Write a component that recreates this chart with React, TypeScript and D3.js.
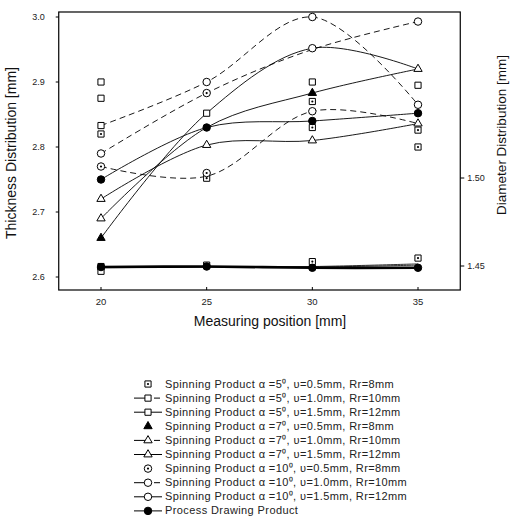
import React from 'react';
import * as d3 from 'd3';

// measuring positions on the x axis
const positions = [20, 25, 30, 35];
const thicknessTicks = [2.6, 2.7, 2.8, 2.9, 3.0];
const diameterTicks = [1.45, 1.5];

// legend entries: marker shape and line style
const seriesLabels = [
  'Spinning Product  α =5⁰, υ=0.5mm, Rr=8mm',
  'Spinning Product  α =5⁰, υ=1.0mm, Rr=10mm',
  'Spinning Product  α =5⁰, υ=1.5mm, Rr=12mm',
  'Spinning Product  α =7⁰, υ=0.5mm, Rr=8mm',
  'Spinning Product  α =7⁰, υ=1.0mm, Rr=10mm',
  'Spinning Product  α =7⁰, υ=1.5mm, Rr=12mm',
  'Spinning Product  α =10⁰, υ=0.5mm, Rr=8mm',
  'Spinning Product  α =10⁰, υ=1.0mm, Rr=10mm',
  'Spinning Product  α =10⁰, υ=1.5mm, Rr=12mm',
  'Process Drawing Product',
];
const seriesMarkers = ['sqDot', 'sq', 'sq', 'triFill', 'tri', 'tri', 'circDot', 'circ', 'circ', 'circFill'];
const seriesLines = ['none', 'dash', 'solid', 'none', 'dash', 'solid', 'none', 'dash', 'solid', 'solid'];

// measured thickness points [position, mm] per series
const thicknessPoints: [number, number][][] = [
  [[20, 2.82], [25, 2.752], [30, 2.87], [30, 2.83], [35, 2.826], [35, 2.80]],
  [[20, 2.90], [20, 2.875], [20, 2.833]],
  [[25, 2.852], [30, 2.90], [35, 2.895]],
  [[20, 2.66], [30, 2.883]],
  [[20, 2.69], [35, 2.836]],
  [[20, 2.72], [25, 2.803], [30, 2.81], [35, 2.92]],
  [[20, 2.77], [25, 2.883], [25, 2.76]],
  [[25, 2.90], [30, 3.00], [35, 2.865]],
  [[20, 2.79], [30, 2.952], [30, 2.855], [35, 2.993]],
  [[20, 2.75], [25, 2.83], [30, 2.84], [35, 2.852]],
];

// measured diameter points [position, mm] per series (right axis)
const diameterPoints: [number, number][][] = [
  [[20, 1.4497], [25, 1.4505], [30, 1.4525], [35, 1.4545]],
  [[20, 1.447]],
  [], [], [], [], [], [], [],
  [[20, 1.4494], [25, 1.4497], [30, 1.449], [35, 1.449]],
];

// fitted thickness curves, values at 20/25/30/35
const thicknessCurves = [
  [2.833, 2.90, 3.00, 2.865],
  [2.79, 2.883, 2.95, 2.993],
  [2.77, 2.755, 2.855, 2.836],
  [2.66, 2.852, 2.952, 2.92],
  [2.75, 2.83, 2.84, 2.852],
  [2.72, 2.803, 2.81, 2.836],
  [2.69, 2.83, 2.883, 2.92],
];
const thicknessCurveDash = [true, true, true, false, false, false, false];

// fitted diameter curves
const diameterCurves = [
  [1.4494, 1.4497, 1.449, 1.449],
  [1.449, 1.4494, 1.4497, 1.4512],
  [1.4492, 1.4495, 1.4494, 1.4505],
];
const diameterCurveWidth = [2.6, 0.8, 0.8];

const FONT = '"Liberation Sans", Arial, sans-serif';

function Marker({ shape, x, y }: { shape: string; x: number; y: number }) {
  const filled = shape.endsWith('Fill');
  const dotted = shape.endsWith('Dot');
  let type = d3.symbolCircle;
  let size = 44;
  if (shape.startsWith('sq')) { type = d3.symbolSquare; size = 38; }
  if (shape.startsWith('tri')) { type = d3.symbolTriangle; size = 30; }
  const path = d3.symbol().type(type).size(size)() as string;
  return (
    <g transform={`translate(${x},${y})`}>
      <path d={path} fill={filled ? '#000' : '#fff'} stroke="#000" strokeWidth={1} />
      {dotted && <circle r={1.1} fill="#000" />}
    </g>
  );
}

export default function App() {
  const x = d3.scaleLinear().domain([20, 35]).range([101, 418]);
  const yL = d3.scaleLinear().domain([2.6, 3.0]).range([277, 17]);
  const yR = d3.scaleLinear().domain([1.45, 1.5]).range([266, 178]);

  const left = x(18), right = x(37);
  const top = yL(3.0077), bottom = yL(2.58);

  const lineL = d3.line<number>()
    .x((_, i) => x(positions[i]))
    .y(d => yL(d))
    .curve(d3.curveCatmullRom.alpha(0.5));
  const lineR = d3.line<number>()
    .x((_, i) => x(positions[i]))
    .y(d => yR(d))
    .curve(d3.curveCatmullRom.alpha(0.5));

  const legendTop = 384;
  const legendStep = 14.1;

  return (
    <svg width={517} height={529} style={{ position: 'absolute', left: 0, top: 0, background: '#fff' }} fontFamily={FONT}>
      <rect x={0} y={0} width={517} height={529} fill="#fff" />

      {/* frame */}
      <rect x={left} y={top} width={right - left} height={bottom - top} fill="none" stroke="#000" strokeWidth={1.2} />

      {/* left axis */}
      {thicknessTicks.map(t => (
        <g key={t}>
          <line x1={left - 3} x2={left} y1={yL(t)} y2={yL(t)} stroke="#000" />
          <text x={left - 14} y={yL(t) + 3} fontSize={9} textAnchor="end" fill="#222">{t.toFixed(1)}</text>
        </g>
      ))}
      {/* right axis */}
      {diameterTicks.map(t => (
        <g key={t}>
          <line x1={right} x2={right + 4} y1={yR(t)} y2={yR(t)} stroke="#000" />
          <text x={right + 7} y={yR(t) + 3} fontSize={9} fill="#222">{t.toFixed(2)}</text>
        </g>
      ))}
      {/* bottom axis */}
      {positions.map(p => (
        <g key={p}>
          <line x1={x(p)} x2={x(p)} y1={bottom} y2={bottom - 3} stroke="#000" />
          <text x={x(p)} y={bottom + 15} fontSize={9.5} textAnchor="middle" fill="#222">{p}</text>
        </g>
      ))}

      <text x={270} y={326} fontSize={14} textAnchor="middle" fill="#111">Measuring position [mm]</text>
      <text transform={`translate(16,153) rotate(-90)`} fontSize={14} textAnchor="middle" fill="#111">
        Thickness Distribution [mm]
      </text>
      <text transform={`translate(506,135) rotate(-90)`} fontSize={13.5} textAnchor="middle" fill="#111">
        Diameter Distribution [mm]
      </text>

      {/* fitted curves */}
      {thicknessCurves.map((c, i) => (
        <path key={`tc${i}`} d={lineL(c) as string} fill="none" stroke="#000" strokeWidth={0.9}
          strokeDasharray={thicknessCurveDash[i] ? '6,4' : undefined} />
      ))}
      {diameterCurves.map((c, i) => (
        <path key={`dc${i}`} d={lineR(c) as string} fill="none" stroke="#000" strokeWidth={diameterCurveWidth[i]} />
      ))}

      {/* measured points */}
      {thicknessPoints.map((pts, i) =>
        pts.map(([p, v], j) => <Marker key={`tp${i}-${j}`} shape={seriesMarkers[i]} x={x(p)} y={yL(v)} />)
      )}
      {diameterPoints.map((pts, i) =>
        pts.map(([p, v], j) => <Marker key={`dp${i}-${j}`} shape={seriesMarkers[i]} x={x(p)} y={yR(v)} />)
      )}

      {/* legend */}
      {seriesLabels.map((label, i) => {
        const ly = legendTop + i * legendStep;
        const style = seriesLines[i];
        return (
          <g key={label}>
            {style === 'solid' && <line x1={134} x2={162} y1={ly} y2={ly} stroke="#000" strokeWidth={1} />}
            {style === 'dash' && (
              <g>
                <line x1={134} x2={146} y1={ly} y2={ly} stroke="#000" strokeWidth={1} />
                <line x1={154} x2={160} y1={ly} y2={ly} stroke="#000" strokeWidth={1} />
              </g>
            )}
            <Marker shape={seriesMarkers[i]} x={148} y={ly} />
            <text x={165} y={ly + 3.5} fontSize={11} letterSpacing={0.4} fill="#222">{label}</text>
          </g>
        );
      })}
    </svg>
  );
}
